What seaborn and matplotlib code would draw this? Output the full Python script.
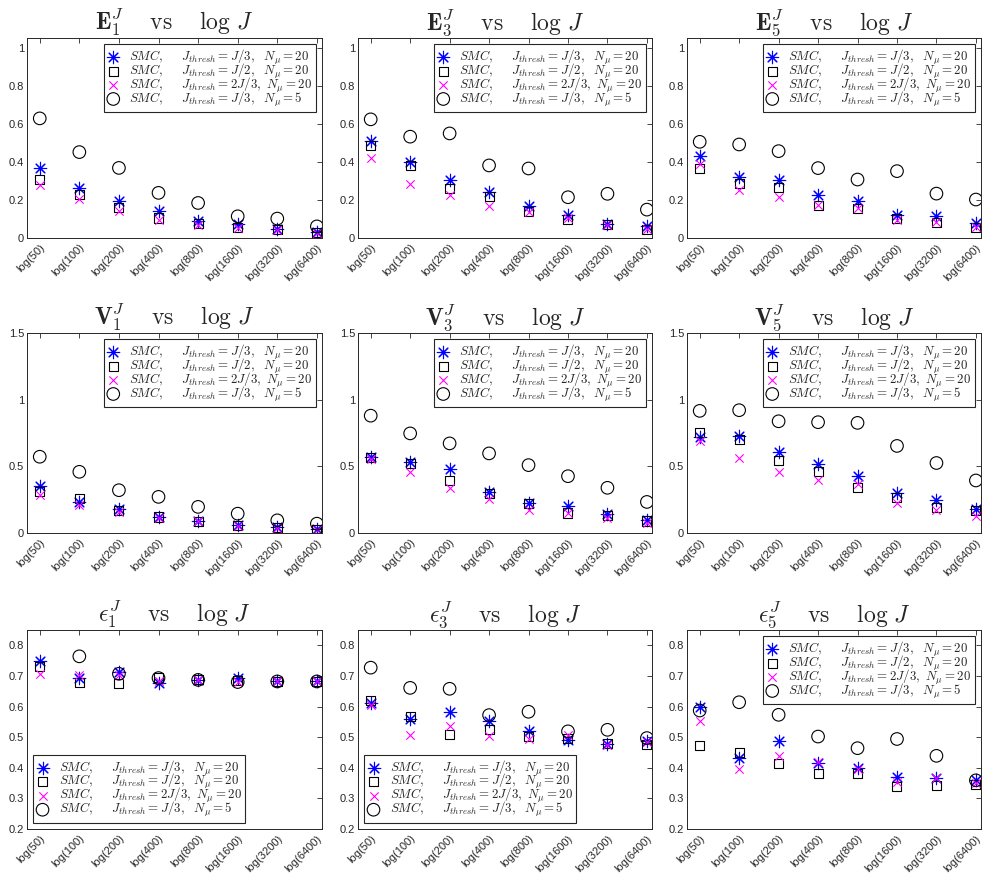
import numpy as np
import pandas as pd
import matplotlib
matplotlib.use("Agg")
import matplotlib.pyplot as plt
import matplotlib.transforms as mtransforms
import seaborn as sns

# J values on the x axis (plotted as log J)
J_values = [50, 100, 200, 400, 800, 1600, 3200, 6400]
x_labels = ["log(%d)" % j for j in J_values]

series_labels = [
    r"$SMC,\quad\ \,J_{thresh}=J/3,\ \ N_{\mu}=20$",
    r"$SMC,\quad\ \,J_{thresh}=J/2,\ \ N_{\mu}=20$",
    r"$SMC,\quad\ \,J_{thresh}=2J/3,\ N_{\mu}=20$",
    r"$SMC,\quad\ \,J_{thresh}=J/3,\ \ N_{\mu}=5$",
]

# E_1
E1_j3 = [0.368, 0.263, 0.193, 0.140, 0.088, 0.075, 0.047, 0.030]
E1_j2 = [0.307, 0.228, 0.158, 0.105, 0.074, 0.053, 0.044, 0.030]
E1_2j3 = [0.280, 0.205, 0.140, 0.096, 0.070, 0.053, 0.040, 0.026]
E1_n5 = [0.628, 0.451, 0.368, 0.237, 0.184, 0.114, 0.102, 0.061]
# E_3
E3_j3 = [0.509, 0.398, 0.307, 0.240, 0.167, 0.119, 0.075, 0.065]
E3_j2 = [0.486, 0.382, 0.258, 0.216, 0.140, 0.096, 0.070, 0.047]
E3_2j3 = [0.421, 0.284, 0.228, 0.167, 0.135, 0.105, 0.067, 0.047]
E3_n5 = [0.623, 0.532, 0.549, 0.381, 0.365, 0.214, 0.232, 0.149]
# E_5
E5_j3 = [0.433, 0.321, 0.302, 0.225, 0.195, 0.119, 0.118, 0.079]
E5_j2 = [0.363, 0.284, 0.263, 0.172, 0.154, 0.102, 0.082, 0.056]
E5_2j3 = [0.386, 0.254, 0.214, 0.172, 0.158, 0.096, 0.084, 0.056]
E5_n5 = [0.505, 0.491, 0.456, 0.367, 0.307, 0.351, 0.233, 0.202]
# V_1
V1_j3 = [0.351, 0.233, 0.178, 0.120, 0.088, 0.058, 0.045, 0.028]
V1_j2 = [0.309, 0.258, 0.166, 0.120, 0.083, 0.058, 0.040, 0.028]
V1_2j3 = [0.288, 0.208, 0.158, 0.115, 0.088, 0.053, 0.038, 0.025]
V1_n5 = [0.572, 0.459, 0.321, 0.271, 0.196, 0.145, 0.095, 0.070]
# V_3
V3_j3 = [0.572, 0.534, 0.477, 0.309, 0.228, 0.200, 0.140, 0.095]
V3_j2 = [0.564, 0.522, 0.391, 0.296, 0.221, 0.150, 0.128, 0.090]
V3_2j3 = [0.554, 0.459, 0.334, 0.258, 0.171, 0.150, 0.113, 0.078]
V3_n5 = [0.880, 0.747, 0.672, 0.597, 0.509, 0.426, 0.339, 0.233]
# V_5
V5_j3 = [0.720, 0.728, 0.607, 0.514, 0.424, 0.301, 0.251, 0.181]
V5_j2 = [0.753, 0.703, 0.545, 0.462, 0.339, 0.264, 0.193, 0.168]
V5_2j3 = [0.687, 0.562, 0.457, 0.394, 0.369, 0.223, 0.173, 0.130]
V5_n5 = [0.916, 0.921, 0.838, 0.831, 0.826, 0.653, 0.525, 0.394]
# epsilon_1 (N_mu = 5 at J = 50 lies outside the axis range)
eps1_j3 = [0.748, 0.693, 0.713, 0.676, 0.687, 0.693, 0.682, 0.682]
eps1_j2 = [0.731, 0.680, 0.676, 0.696, 0.687, 0.685, 0.682, 0.682]
eps1_2j3 = [0.707, 0.704, 0.702, 0.685, 0.687, 0.680, 0.682, 0.682]
eps1_n5 = [np.nan, 0.764, 0.707, 0.693, 0.687, 0.680, 0.682, 0.682]
# epsilon_3
eps3_j3 = [0.611, 0.559, 0.581, 0.554, 0.521, 0.491, 0.479, 0.488]
eps3_j2 = [0.619, 0.567, 0.510, 0.524, 0.501, 0.497, 0.479, 0.477]
eps3_2j3 = [0.605, 0.508, 0.537, 0.504, 0.494, 0.508, 0.475, 0.483]
eps3_n5 = [0.727, 0.661, 0.658, 0.572, 0.583, 0.519, 0.524, 0.497]
# epsilon_5
eps5_j3 = [0.598, 0.433, 0.486, 0.417, 0.398, 0.370, 0.368, 0.359]
eps5_j2 = [0.472, 0.450, 0.415, 0.382, 0.381, 0.340, 0.342, 0.346]
eps5_2j3 = [0.554, 0.395, 0.439, 0.420, 0.397, 0.354, 0.365, 0.351]
eps5_n5 = [0.587, 0.614, 0.573, 0.502, 0.464, 0.494, 0.439, 0.359]

panels = [
    (r"$\mathbf{E}_1^J\quad\ \mathrm{vs}\quad\ \log\,J$", [E1_j3, E1_j2, E1_2j3, E1_n5]),
    (r"$\mathbf{E}_3^J\quad\ \mathrm{vs}\quad\ \log\,J$", [E3_j3, E3_j2, E3_2j3, E3_n5]),
    (r"$\mathbf{E}_5^J\quad\ \mathrm{vs}\quad\ \log\,J$", [E5_j3, E5_j2, E5_2j3, E5_n5]),
    (r"$\mathbf{V}_1^J\quad\ \mathrm{vs}\quad\ \log\,J$", [V1_j3, V1_j2, V1_2j3, V1_n5]),
    (r"$\mathbf{V}_3^J\quad\ \mathrm{vs}\quad\ \log\,J$", [V3_j3, V3_j2, V3_2j3, V3_n5]),
    (r"$\mathbf{V}_5^J\quad\ \mathrm{vs}\quad\ \log\,J$", [V5_j3, V5_j2, V5_2j3, V5_n5]),
    (r"$\epsilon_1^J\quad\ \mathrm{vs}\quad\ \log\,J$", [eps1_j3, eps1_j2, eps1_2j3, eps1_n5]),
    (r"$\epsilon_3^J\quad\ \mathrm{vs}\quad\ \log\,J$", [eps3_j3, eps3_j2, eps3_2j3, eps3_n5]),
    (r"$\epsilon_5^J\quad\ \mathrm{vs}\quad\ \log\,J$", [eps5_j3, eps5_j2, eps5_2j3, eps5_n5]),
]

row_yticks = [[0, 0.2, 0.4, 0.6, 0.8, 1], [0, 0.5, 1, 1.5], [0.2, 0.3, 0.4, 0.5, 0.6, 0.7, 0.8]]
row_ylim = [(0, 1.05), (0, 1.5), (0.2, 0.85)]
legend_loc = ["upper right"] * 6 + ["lower left", "lower left", "upper right"]

# marker styles: blue asterisk, black square, magenta cross, black circle
styles = [
    dict(marker=(8, 2, 0), color="#0000ff", s=80),
    dict(marker="s", facecolor="none", edgecolor="black", s=42),
    dict(marker="x", color="#ff00ff", s=36),
    dict(marker="o", facecolor="none", edgecolor="black", s=82),
]

sns.set_style("white")
plt.rcParams["font.family"] = ["Liberation Sans", "DejaVu Sans"]
plt.rcParams["mathtext.fontset"] = "cm"

fig, axes = plt.subplots(3, 3, figsize=(9.82, 8.82), dpi=100)

W, H = 982.0, 882.0
col_px = [(27, 322), (358, 652), (687, 981)]
row_px = [(38, 238), (333, 533), (630, 829)]

x = np.log(J_values)
axc = "#262626"
shift = mtransforms.ScaledTranslation(8 / 100, -3 / 100, fig.dpi_scale_trans)

for k, (title, series) in enumerate(panels):
    r, c = divmod(k, 3)
    ax = axes[r, c]
    x0, x1 = col_px[c]
    y0, y1 = row_px[r]
    ax.set_position([x0 / W, 1 - y1 / H, (x1 - x0) / W, (y1 - y0) / H])

    for vals, lab, st in zip(series, series_labels, styles):
        df = pd.DataFrame({"x": x, "y": vals})
        sns.scatterplot(data=df, x="x", y="y", ax=ax, label=lab, linewidth=0.8, **st)

    ax.set_xlim(np.log(40), np.log(7000))
    ax.set_ylim(*row_ylim[r])
    ax.set_xticks(x)
    ax.set_xticklabels(x_labels, rotation=45, ha="right", va="top", rotation_mode="anchor")
    for t in ax.get_xticklabels():
        t.set_transform(t.get_transform() + shift)
    yt = row_yticks[r]
    ax.set_yticks(yt)
    ax.set_yticklabels(["%g" % v for v in yt])
    ax.set_xlabel("")
    ax.set_ylabel("")
    ax.tick_params(direction="in", top=True, right=True, length=3.5, width=0.6,
                   color=axc, labelcolor=axc, labelsize=8)
    ax.tick_params(axis="y", pad=2)
    ax.tick_params(axis="x", pad=3)
    for sp in ax.spines.values():
        sp.set_color(axc)
        sp.set_linewidth(0.7)
    ax.set_title(title, fontsize=17, pad=6)

    leg = ax.legend(loc=legend_loc[k], fontsize=9.3, fancybox=False, framealpha=1,
                    edgecolor=axc, borderaxespad=0.45, handletextpad=0.8,
                    borderpad=0.3, labelspacing=-0.4, handlelength=0.9,
                    handleheight=0.7, scatterpoints=1)
    leg.get_frame().set_linewidth(0.8)

plt.savefig("out.png", dpi=100)
